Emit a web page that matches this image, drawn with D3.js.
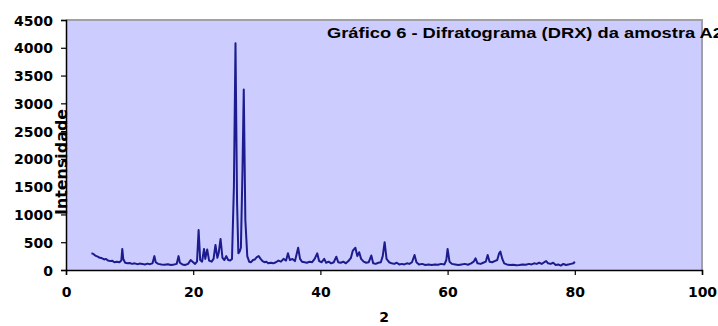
<!DOCTYPE html>
<html>
<head>
<meta charset="utf-8">
<script src="https://cdn.jsdelivr.net/npm/d3@7"></script>
<style>
  body { margin: 0; background: #fff; }
  svg text { font-family: "DejaVu Sans", sans-serif; font-weight: bold; fill: #000; }
</style>
</head>
<body>
<div id="chart"></div>
<script>
// 2theta (graus)
const angles = [
  4.0, 4.3, 4.6, 5.0, 5.3, 5.6, 6.0, 6.3, 6.6, 7.0, 7.3, 7.6, 8.0, 8.4, 8.7, 8.85, 9.0, 9.3, 9.7,
  10.0, 10.4, 10.8, 11.2, 11.6, 12.0, 12.4, 12.8, 13.2, 13.6, 13.9, 14.1, 14.5, 15.0, 15.5, 16.0,
  16.5, 17.0, 17.4, 17.7, 17.9, 18.3, 18.7, 19.2, 19.6, 19.9, 20.3, 20.6, 20.85, 21.1, 21.4, 21.7,
  21.9, 22.2, 22.5, 22.9, 23.2, 23.5, 23.8, 24.0, 24.3, 24.6, 24.9, 25.2, 25.5, 25.8, 26.1, 26.4,
  26.65, 26.9, 27.1, 27.3, 27.5, 27.75, 27.95, 28.2, 28.5, 28.8, 29.1, 29.4, 29.7, 30.0, 30.3, 30.6,
  30.9, 31.2, 31.5, 31.8, 32.2, 32.6, 33.0, 33.4, 33.8, 34.2, 34.6, 34.9, 35.2, 35.6, 36.0, 36.5,
  36.8, 37.1, 37.5, 37.9, 38.3, 38.7, 39.1, 39.5, 39.8, 40.2, 40.6, 40.9, 41.3, 41.7, 42.1, 42.5,
  42.8, 43.2, 43.6, 44.0, 44.4, 44.8, 45.1, 45.5, 45.8, 46.1, 46.4, 46.8, 47.2, 47.6, 48.0, 48.3,
  48.7, 49.1, 49.5, 49.8, 50.1, 50.4, 50.8, 51.2, 51.6, 52.0, 52.4, 52.8, 53.2, 53.6, 54.0, 54.4,
  54.8, 55.1, 55.5, 56.0, 56.5, 57.0, 57.5, 58.0, 58.5, 59.0, 59.5, 59.8, 60.0, 60.3, 60.7, 61.2,
  61.7, 62.2, 62.7, 63.2, 63.7, 64.1, 64.4, 64.7, 65.2, 65.6, 66.0, 66.3, 66.6, 67.0, 67.4, 67.8,
  68.1, 68.3, 68.6, 68.9, 69.3, 69.8, 70.3, 70.8, 71.3, 71.8, 72.3, 72.8, 73.2, 73.6, 74.0, 74.4,
  74.8, 75.2, 75.5, 75.8, 76.2, 76.6, 77.0, 77.4, 77.8, 78.2, 78.6, 79.0, 79.4, 79.8, 80.0
];

const intensity = [
  300, 290, 260, 240, 220, 215, 190, 200, 170, 160, 165, 140, 150, 140, 170, 380, 200, 130, 120,
  125, 110, 120, 105, 115, 110, 100, 115, 105, 120, 250, 140, 110, 100, 95, 105,
  90, 100, 110, 250, 130, 100, 90, 110, 180, 150, 110, 150, 720, 180, 150, 380,
  200, 370, 170, 150, 200, 450, 220, 300, 560, 220, 180, 250, 180, 170, 200, 1500,
  4080, 1200, 300, 330, 400, 1800, 3250, 900, 250, 150, 140, 180, 190, 230, 250, 200,
  160, 140, 150, 120, 130, 120, 140, 170, 150, 200, 170, 300, 180, 200, 160, 400,
  200, 150, 140, 130, 150, 140, 200, 300, 160, 140, 200, 130, 150, 120, 140, 240,
  140, 130, 150, 120, 160, 220, 350, 400, 250, 320, 200, 150, 130, 140, 260, 120,
  110, 130, 140, 250, 500, 200, 140, 120, 110, 130, 100, 110, 100, 120, 110, 140,
  270, 140, 100, 110, 90, 100, 90, 100, 95, 110, 100, 180, 380, 150, 110, 100,
  90, 100, 110, 95, 120, 150, 210, 120, 110, 130, 150, 270, 150, 140, 160, 180,
  300, 330, 200, 120, 100, 90, 95, 85, 90, 100, 95, 110, 100, 120, 110, 130,
  110, 140, 160, 120, 110, 130, 90, 100, 80, 110, 90, 100, 110, 120, 150
];

const xTicks = [0, 20, 40, 60, 80, 100];
const yTicks = [0, 500, 1000, 1500, 2000, 2500, 3000, 3500, 4000, 4500];

const title = 'Gráfico 6 - Difratograma (DRX) da amostra A2';
const xTitle = '2';
const yTitle = 'Intensidade';

const width = 718, height = 326;
const margin = { top: 20, right: 16, bottom: 56, left: 66 };
const w = width - margin.left - margin.right;
const h = height - margin.top - margin.bottom;

const svg = d3.select('#chart').append('svg')
  .attr('width', width)
  .attr('height', height);

const g = svg.append('g')
  .attr('transform', 'translate(' + margin.left + ',' + margin.top + ')');

const x = d3.scaleLinear().domain([0, 100]).range([0, w]);
const y = d3.scaleLinear().domain([0, 4500]).range([h, 0]);

// plot area
g.append('rect')
  .attr('width', w)
  .attr('height', h)
  .attr('fill', '#ccccff');

// gray frame top / right
g.append('path')
  .attr('d', 'M0,0H' + w + 'V' + h)
  .attr('fill', 'none')
  .attr('stroke', '#a0a0a8')
  .attr('stroke-width', 2);

const data = angles.map((a, i) => ({ a: a, v: intensity[i] }));

const line = d3.line()
  .x(d => x(d.a))
  .y(d => y(d.v));

g.append('path')
  .datum(data)
  .attr('d', line)
  .attr('fill', 'none')
  .attr('stroke', '#1c1c8e')
  .attr('stroke-width', 2)
  .attr('stroke-linejoin', 'round');

// axes
const xAxis = g.append('g')
  .attr('transform', 'translate(0,' + h + ')')
  .call(d3.axisBottom(x).tickValues(xTicks).tickSize(5).tickPadding(12).tickFormat(d3.format('d')));

const yAxis = g.append('g')
  .call(d3.axisLeft(y).tickValues(yTicks).tickSize(5).tickPadding(8).tickFormat(d3.format('d')));

[xAxis, yAxis].forEach(a => {
  a.select('.domain').attr('stroke', '#000').attr('stroke-width', 1.5);
  a.selectAll('.tick line').attr('stroke', '#000').attr('stroke-width', 1.2);
  a.selectAll('.tick text').style('font-size', '14px').style('font-family', '"DejaVu Sans", sans-serif').attr('fill', '#000');
});
yAxis.selectAll('.tick text').attr('dy', '0.36em');

// titles
g.append('text')
  .attr('x', 261)
  .attr('y', 18)
  .attr('textLength', 396)
  .attr('lengthAdjust', 'spacingAndGlyphs')
  .style('font-family', '"Liberation Sans", Arial, sans-serif')
  .style('font-size', '14px')
  .text(title);

svg.append('text')
  .attr('x', margin.left + x(50))
  .attr('y', 322)
  .attr('text-anchor', 'middle')
  .style('font-size', '14px')
  .text(xTitle);

svg.append('text')
  .attr('transform', 'translate(67,162) rotate(-90)')
  .attr('text-anchor', 'middle')
  .attr('textLength', 106)
  .attr('lengthAdjust', 'spacingAndGlyphs')
  .style('font-size', '15px')
  .text(yTitle);
</script>
</body>
</html>
